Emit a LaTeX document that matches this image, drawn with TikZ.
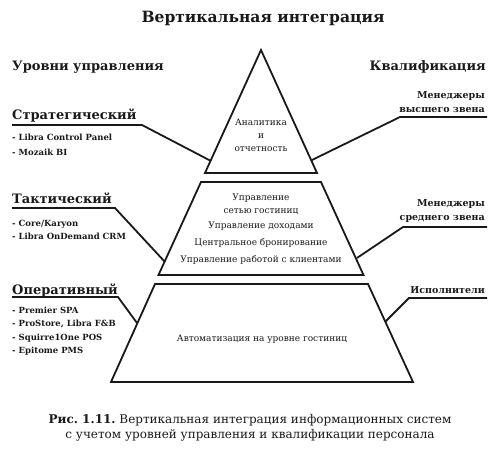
\documentclass[tikz,border=0pt]{standalone}
\usepackage{fontspec}
\setmainfont{DejaVu Serif}
\frenchspacing
\usetikzlibrary{positioning, calc}
\definecolor{inkblack}{RGB}{25,25,25}
\tikzset{
  base/.style  = {inner sep=0pt, text=inkblack},
  title/.style = {base, font=\fontsize{15.5}{18}\selectfont\bfseries},
  head/.style  = {base, font=\fontsize{13}{15}\selectfont\bfseries},
  item/.style  = {base, font=\fontsize{8.5}{13}\selectfont\bfseries, anchor=base west},
  qual/.style  = {base, font=\fontsize{9.5}{14}\selectfont\bfseries, align=right},
  inner/.style = {base, font=\fontsize{9}{13}\selectfont, align=center},
  capt/.style  = {base, font=\fontsize{12}{15}\selectfont, align=center},
  tier/.style  = {draw=inkblack, line width=1.8pt, line join=miter},
  lead/.style  = {draw=inkblack, line width=1.8pt},
}

\begin{document}
\begin{tikzpicture}[x=1pt, y=-1pt]
  \useasboundingbox (0,0) rectangle (504,452);

  % pyramid
  \draw[tier] (261,50) -- (317,173) -- (205,173) -- cycle;
  \draw[tier] (201,182) -- (321,182) -- (363.5,275) -- (158.5,275) -- cycle;
  \draw[tier] (155,284) -- (368,284) -- (413,382) -- (111,382) -- cycle;

  % points on the sides
  \coordinate (strat-in) at (211,161);
  \coordinate (tact-in)  at (165,262);
  \coordinate (oper-in)  at (137,323);
  \coordinate (high-in)  at (312,160);
  \coordinate (mid-in)   at (357,258);
  \coordinate (exec-in)  at (385,322);

  \node[title] (title) at (263,18) {Вертикальная интеграция};
  \node[head, anchor=west] (levels) at (12,67) {Уровни управления};
  \node[head, anchor=east] (qualif) at (486,67) {Квалификация};

  % tier texts
  \node[inner] (analytics) at (261,135.5) {Аналитика\\и\\отчетность};
  \node[inner] (chain) at (261,204.5) {Управление\\сетью гостиниц};
  \node[inner] (revenue) at (261,226) {Управление доходами};
  \node[inner] (booking) at (261,243) {Центральное бронирование};
  \node[inner] (crm) at (261,260) {Управление работой с клиентами};
  \node[inner] (hotel) at (262,339) {Автоматизация на уровне гостиниц};

  % left side
  \node[head, anchor=base west] (strat) at (12,120) {Стратегический};
  \draw[lead] ([yshift=-5pt]strat.base west) -- ++(130,0) -- (strat-in);
  \node[item] (s1) at (12,141) {- Libra Control Panel};
  \node[item] (s2) at (12,155) {- Mozaik BI};

  \node[head, anchor=base west] (tact) at (12,204) {Тактический};
  \draw[lead] ([yshift=-4pt]tact.base west) -- ++(103,0) -- (tact-in);
  \node[item] (t1) at (12,226) {- Core/Karyon};
  \node[item] (t2) at (12,239) {- Libra OnDemand CRM};

  \node[head, anchor=base west] (oper) at (12,294) {Оперативный};
  \draw[lead] ([yshift=-3pt]oper.base west) -- ++(106,0) -- (oper-in);
  \node[item] (o1) at (12,313) {- Premier SPA};
  \node[item] (o2) at (12,326) {- ProStore, Libra F\&B};
  \node[item] (o3) at (12,340) {- Squirre1One POS};
  \node[item] (o4) at (12,353) {- Epitome PMS};

  % right side
  \node[qual, anchor=south east] (high) at (485,113) {Менеджеры\\высшего звена};
  \draw[lead] (487,117) -- (400,117) -- (high-in);
  \node[qual, anchor=south east] (mid) at (485,223) {Менеджеры\\среднего звена};
  \draw[lead] (487,227) -- (403,227) -- (mid-in);
  \node[qual, anchor=base east] (exec) at (485,293) {Исполнители};
  \draw[lead] (487,298) -- (409,298) -- (exec-in);

  \node[capt] (caption) at (250,427.5)
    {\textbf{Рис. 1.11.} Вертикальная интеграция информационных систем\\
     с учетом уровней управления и квалификации персонала};
\end{tikzpicture}
\end{document}
